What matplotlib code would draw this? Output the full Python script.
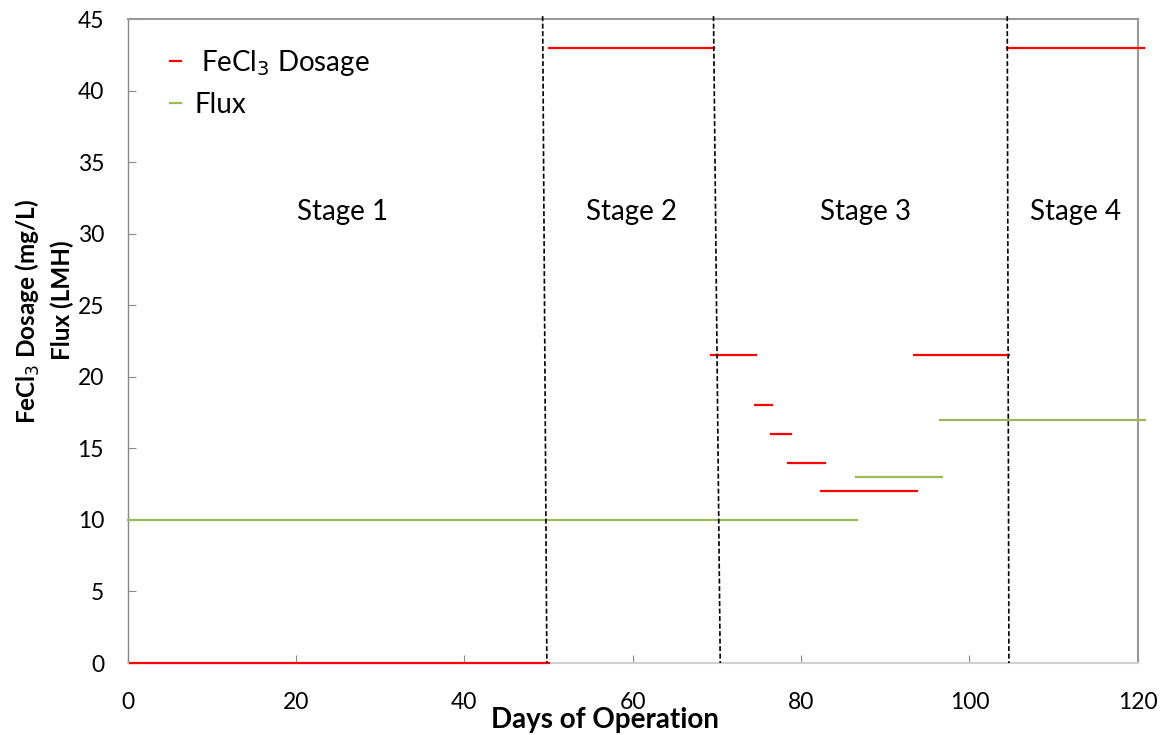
import matplotlib
matplotlib.use("Agg")
import matplotlib.pyplot as plt

plt.rcParams["font.family"] = ["Lato", "DejaVu Sans"]

RED = "#ff0000"
GREEN = "#9bbb59"

# dosage steps: (start day, end day, mg/L)
dose_start = [0.3, 50, 69.3, 74.5, 76.4, 78.4, 82.4, 93.4, 104.5]
dose_end = [50, 69.7, 74.7, 76.6, 78.8, 82.8, 93.8, 104.7, 120.8]
dose_val = [0, 43, 21.5, 18, 16, 14, 12, 21.5, 43]

# flux steps: (start day, end day, LMH)
flux_start = [0, 86.5, 96.5]
flux_end = [86.7, 96.8, 120.9]
flux_val = [10, 13, 17]

# stage boundaries (hand-drawn, slightly off vertical)
bound_top = [49.3, 69.6, 104.5]
bound_bot = [49.8, 70.4, 104.7]

stage_names = ["Stage 1", "Stage 2", "Stage 3", "Stage 4"]
stage_x = [25.5, 59.8, 87.6, 112.6]
stage_y = 31.5

fig = plt.figure(figsize=(11.64, 7.35), dpi=100)
ax = fig.add_axes([127.7 / 1164, 1 - 663 / 735, (1137.7 - 127.7) / 1164, (663 - 19) / 735])

for i, (a, b, v) in enumerate(zip(dose_start, dose_end, dose_val)):
    ax.plot([a, b], [v, v], color=RED, lw=1.6, clip_on=False, zorder=3,
            label=" FeCl$_3$ Dosage" if i == 0 else None)
for i, (a, b, v) in enumerate(zip(flux_start, flux_end, flux_val)):
    ax.plot([a, b], [v, v], color=GREEN, lw=1.6, clip_on=False, zorder=3,
            label="Flux" if i == 0 else None)

for t, b in zip(bound_top, bound_bot):
    ax.plot([t, b], [45.2, 0], color="black", lw=1.2, ls=(0, (3, 1.5)),
            clip_on=False, zorder=4)

for name, sx in zip(stage_names, stage_x):
    ax.text(sx, stage_y, name, fontsize=20, ha="center", va="center")

ax.set_xlim(0, 120)
ax.set_ylim(0, 45)
ax.set_xticks(range(0, 121, 20))
ax.set_yticks(range(0, 46, 5))
ax.tick_params(direction="in", length=6, width=0.8, color="#888888",
               labelsize=16.5)
ax.tick_params(axis="x", pad=21)
ax.tick_params(axis="y", pad=17)
for s in ["top", "right", "left"]:
    ax.spines[s].set_color("#999999")
    ax.spines[s].set_linewidth(1.5)
ax.spines["left"].set_color("#888888")
ax.spines["left"].set_linewidth(1.0)
ax.spines["bottom"].set_color("#d0d0d0")
ax.spines["bottom"].set_linewidth(1.5)

leg = ax.legend(loc="upper left", bbox_to_anchor=(0.042, 0.955), frameon=False,
                fontsize=20, handlelength=0.4, handletextpad=0.47,
                labelspacing=0.5, borderpad=0, borderaxespad=0,
                alignment="left")

fig.text(605 / 1164, 1 - 720 / 735, "Days of Operation", fontsize=20,
         fontweight="bold", ha="center", va="center")
fig.text(28 / 1164, 1 - 312 / 735, "FeCl$_3$ Dosage (mg/L)", fontsize=17.5,
         fontweight="bold", rotation=90, ha="center", va="center")
fig.text(62 / 1164, 1 - 300 / 735, "Flux (LMH)", fontsize=17.5,
         fontweight="bold", rotation=90, ha="center", va="center")

fig.savefig("out.png", dpi=100)
